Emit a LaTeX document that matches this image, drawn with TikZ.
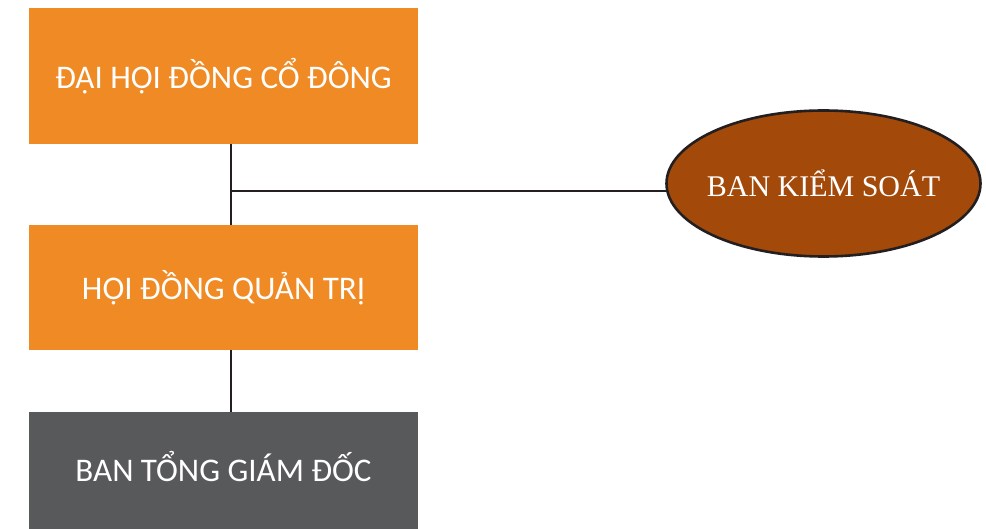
\documentclass[tikz,border=0pt]{standalone}
\usepackage{fontspec}
\setmainfont{Carlito}
\newfontfamily\serifface{Liberation Serif}
\usetikzlibrary{shapes.geometric}
\definecolor{boxorange}{HTML}{F08A24}
\definecolor{boxgray}{HTML}{58595B}
\definecolor{ovalbrown}{HTML}{A34A0B}
\definecolor{linegray}{HTML}{231F20}
\begin{document}
\begin{tikzpicture}[x=1pt,y=-1pt,
  unit/.style={rectangle, inner sep=0pt, minimum width=389pt, text=white,
    font=\fontsize{33}{40}\selectfont},
  oval/.style={ellipse, draw=linegray, line width=2.6pt, fill=ovalbrown,
    inner sep=0pt, minimum width=314pt, minimum height=146pt},
  ovaltext/.style={inner sep=0pt, text=white, font=\serifface\fontsize{30}{36}\selectfont},
  link/.style={draw=linegray, line width=2.6pt}]
\useasboundingbox (0,0) rectangle (986,529);
\fill[white] (0,0) rectangle (986,529);
% organisation boxes
\node[unit, fill=boxorange, minimum height=136pt] (dhcd) at (223.5,76) {ĐẠI HỘI ĐỒNG CỔ ĐÔNG};
\node[unit, fill=boxorange, minimum height=125pt] (hdqt) at (223.5,287.5) {HỘI ĐỒNG QUẢN TRỊ};
\node[unit, fill=boxgray, minimum height=130pt] (btgd) at (223.5,477) {};
\node[text=white, inner sep=0pt, font=\fontsize{33}{40}\selectfont] (btgdlabel) at (223.5,467) {BAN TỔNG GIÁM ĐỐC};
% connectors
\coordinate (junc) at (231,191);
\coordinate (bksleft) at (668,191);
\draw[link] (dhcd.south -| junc) -- (hdqt.north -| junc);
\draw[link] (hdqt.south -| junc) -- (btgd.north -| junc);
\draw[link] (junc) -- (bksleft);
% supervisory board
\node[oval] (bks) at (823.5,183.5) {};
\node[ovaltext] (bkslabel) at (bks.center) {BAN KIỂM SOÁT};
\end{tikzpicture}
\end{document}
